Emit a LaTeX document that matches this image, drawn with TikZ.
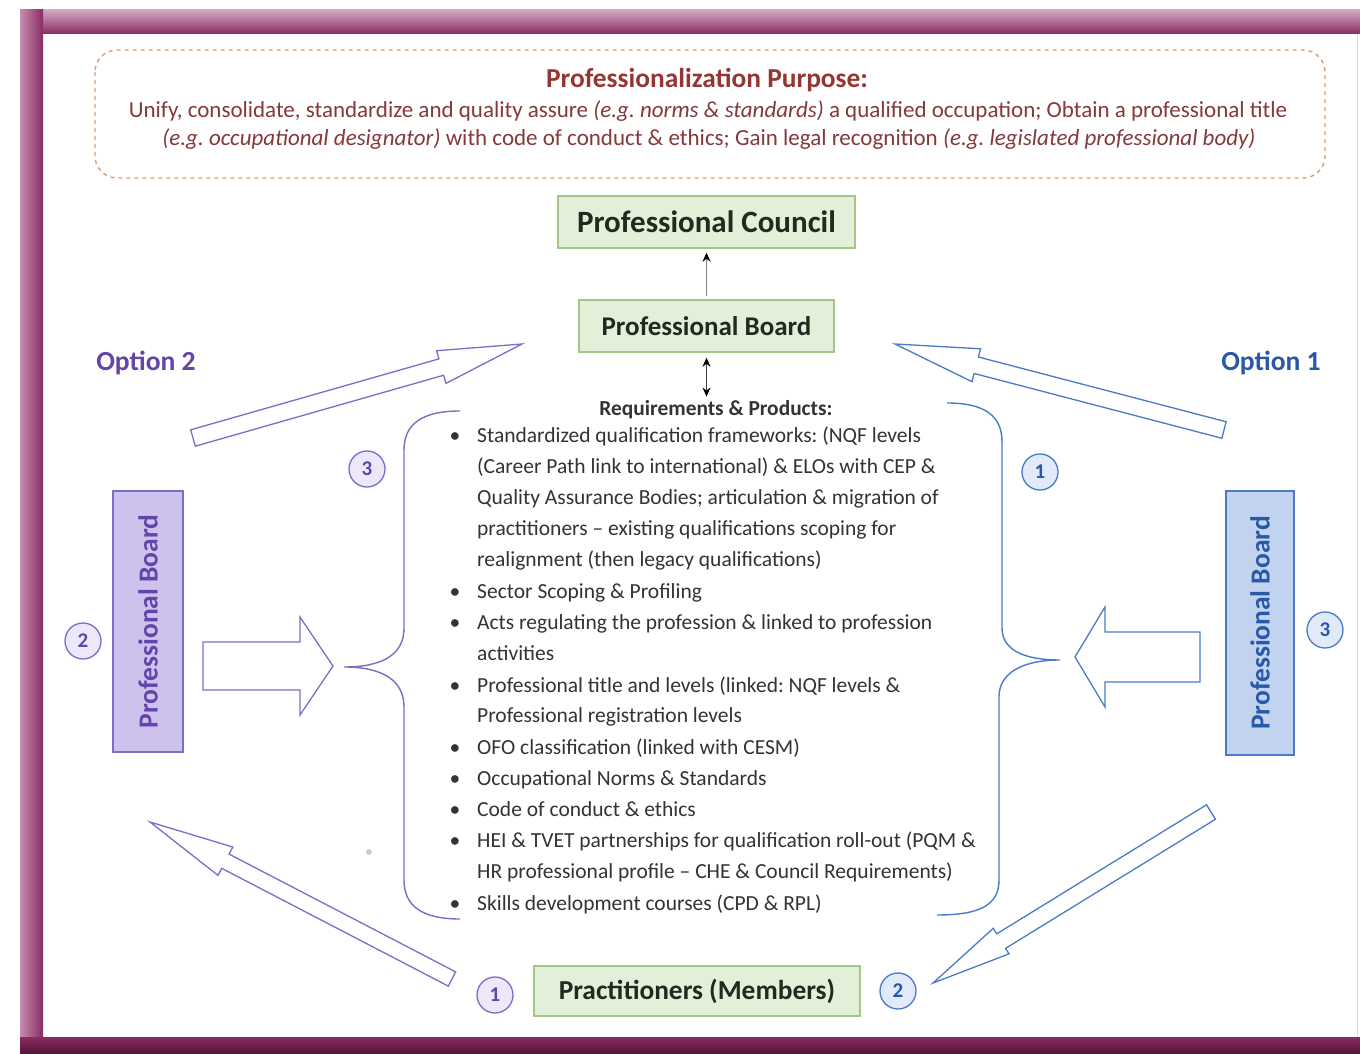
\documentclass[tikz,border=0pt]{standalone}
\usepackage{fontspec}
\setmainfont{Carlito}
\usetikzlibrary{calc,arrows.meta}
\frenchspacing
\definecolor{frameLight}{HTML}{D3A5C4}
\definecolor{frameDark}{HTML}{8A2C61}
\definecolor{frameDeep}{HTML}{4E1534}
\definecolor{purpTitle}{HTML}{943634}
\definecolor{purpBody}{HTML}{84393A}
\definecolor{dashCol}{HTML}{D99A7C}
\definecolor{greenFill}{HTML}{E3EFD8}
\definecolor{greenLine}{HTML}{A6C688}
\definecolor{boxText}{HTML}{1F2B1F}
\definecolor{violetLine}{HTML}{7E6CC6}
\definecolor{violetFill}{HTML}{CDC2EE}
\definecolor{violetText}{HTML}{6444A8}
\definecolor{violetCirc}{HTML}{ECE7F9}
\definecolor{blueLine}{HTML}{4B7BC6}
\definecolor{blueFill}{HTML}{C1D3EF}
\definecolor{blueText}{HTML}{2A58A8}
\definecolor{blueCirc}{HTML}{E0EAF8}
\definecolor{listText}{HTML}{333333}
\newcommand\blockarrow[6]{%
  \coordinate (ba-c) at ($(#3)!#6!(#2)$);
  \draw[#1] ($(#2)!#4!90:(#3)$) -- ($(ba-c)!#4!90:(#3)$) -- ($(ba-c)!#5!90:(#3)$) -- (#3)
    -- ($(ba-c)!#5!-90:(#3)$) -- ($(ba-c)!#4!-90:(#3)$) -- ($(#2)!#4!-90:(#3)$) -- cycle;}
\tikzset{
  greenbox/.style={draw=greenLine, fill=greenFill, line width=1.4pt, text=boxText, font=\bfseries\fontsize{31}{34}\selectfont, inner sep=0pt},
  vboard/.style={rotate=90, line width=1.4pt, font=\bfseries\fontsize{27.5}{30}\selectfont, inner sep=0pt},
  numc/.style={circle, line width=1.3pt, minimum size=36pt, inner sep=0pt, font=\bfseries\fontsize{21}{22}\selectfont},
  vnum/.style={numc, draw=violetLine, fill=violetCirc, text=violetText},
  bnum/.style={numc, draw=blueLine, fill=blueCirc, text=blueText},
  listline/.style={anchor=mid west, inner sep=0pt, text=listText, font=\fontsize{21.5}{24}\selectfont},
  bul/.style={anchor=mid, inner sep=0pt, text=listText, font=\fontsize{21.5}{24}\selectfont},
  varrow/.style={draw=violetLine, line width=1.3pt, fill=white},
  barrow/.style={draw=blueLine, line width=1.3pt, fill=white},
  linkarrow/.style={>={Stealth[length=9pt,width=8pt,color=black]}},
}
\begin{document}
\begin{tikzpicture}[x=1pt,y=-1pt]
\useasboundingbox (0,0) rectangle (1360,1054);
\fill[white] (0,0) rectangle (1360,1054);
% frame
\shade[top color=frameLight, bottom color=frameDark] (20,10) rectangle (1360,34);
\shade[left color=frameLight!80!frameDark, right color=frameDark] (20,10) rectangle (43,1054);
\shade[top color=frameDark, bottom color=frameDeep] (20,1037) rectangle (1360,1054);
\draw[frameLight!50, line width=1pt] (1357,34) -- (1357,1037);
% purpose box
\draw[dashCol, line width=1.4pt, dash pattern=on 4pt off 4pt, rounded corners=22pt] (95,50) rectangle (1325,178);
\node (ptitle) at (707,80) {\textcolor{purpTitle}{\bfseries\fontsize{27.4}{30}\selectfont Professionalization Purpose:}};
\node (pl1) at (708,111) {\textcolor{purpBody}{\fontsize{23}{26}\selectfont Unify, consolidate, standardize and quality assure \textit{(e.g. norms \& standards)} a qualified occupation; Obtain a professional title}};
\node (pl2) at (709,139) {\textcolor{purpBody}{\fontsize{23}{26}\selectfont \textit{(e.g. occupational designator)} with code of conduct \& ethics; Gain legal recognition \textit{(e.g. legislated professional body)}}};
% central boxes
\node[greenbox, minimum width=297pt, minimum height=52pt] (council) at (706.5,222) {Professional Council};
\node[greenbox, minimum width=255pt, minimum height=52pt, font=\bfseries\fontsize{27}{30}\selectfont] (board) at (706.5,326) {Professional Board};
\node[inner sep=0pt, text=listText, font=\bfseries\fontsize{21.4}{24}\selectfont] (req) at (716,410) {Requirements \& Products:};
\draw[linkarrow, black!50, line width=1.6pt, ->, shorten <=3pt, shorten >=4pt] (board.north) -- (council.south);
\draw[linkarrow, black!75, line width=1.4pt, <->, shorten <=5pt, shorten >=4pt] (board.south) -- (board.south |- req.north);
% list
\foreach \yy/\bb/\tt [count=\i] in {
 440/1/{Standardized qualification frameworks: (NQF levels},
 471/0/{(Career Path link to international) \& ELOs with CEP \&},
 502/0/{Quality Assurance Bodies; articulation \& migration of},
 533/0/{practitioners -- existing qualifications scoping for},
 564/0/{realignment (then legacy qualifications)},
 596/1/{Sector Scoping \& Profiling},
 627/1/{Acts regulating the profession \& linked to profession},
 658/0/{activities},
 690/1/{Professional title and levels (linked: NQF levels \&},
 720/0/{Professional registration levels},
 752/1/{OFO classification (linked with CESM)},
 783/1/{Occupational Norms \& Standards},
 814/1/{Code of conduct \& ethics},
 845/1/{HEI \& TVET partnerships for qualification roll-out (PQM \&},
 876/0/{HR professional profile -- CHE \& Council Requirements)},
 908/1/{Skills development courses (CPD \& RPL)}} {
  \node[listline] (line\i) at (477,\yy) {\tt};
  \ifnum\bb=1 \node[bul] (bul\i) at (455,\yy) {\textbullet}; \fi
}
% braces
\draw[violetLine, line width=1.4pt] (460,411) .. controls (422,411) and (404,424) .. (404,450) -- (404,628)
  .. controls (404,655) and (382,667) .. (344,667) .. controls (382,667) and (404,680) .. (404,707)
  -- (404,880) .. controls (404,906) and (422,919) .. (460,919);
\draw[blueLine, line width=1.4pt] (947,403) .. controls (985,403) and (1002,416) .. (1002,442) -- (1002,628)
  .. controls (1002,650) and (1024,660) .. (1060,660) .. controls (1024,660) and (999,672) .. (999,697)
  -- (999,880) .. controls (999,905) and (980,915) .. (937,915);
% side boards
\node[vboard, draw=violetLine, fill=violetFill, text=violetText, minimum width=261pt, minimum height=70pt] (lboard) at (148,621.5) {Professional Board};
\node[vboard, draw=blueLine, fill=blueFill, text=blueText, minimum width=264pt, minimum height=68pt] (rboard) at (1260,623) {Professional Board};
% options
\node[text=violetText, font=\bfseries\fontsize{27.6}{30}\selectfont] (opt2) at (146,363) {Option 2};
\node[text=blueText, font=\bfseries\fontsize{27.6}{30}\selectfont] (opt1) at (1271,363) {Option 1};
% numbered circles
\node[vnum] (v3) at (367,469) {3};
\node[vnum] (v2) at (83,641) {2};
\node[vnum] (v1) at (495,995) {1};
\node[bnum] (b1) at (1040,472) {1};
\node[bnum] (b3) at (1325,630) {3};
\node[bnum] (b2) at (898,991) {2};
% practitioners
\node[greenbox, minimum width=326pt, minimum height=50pt, font=\bfseries\fontsize{27.4}{30}\selectfont] (pract) at (697,991) {Practitioners (Members)};
% block arrows
\coordinate (la-t) at (203,666); \coordinate (la-h) at (333,666);
\blockarrow{varrow}{la-t}{la-h}{24pt}{49pt}{33pt}
\coordinate (ra-t) at (1200,657); \coordinate (ra-h) at (1075,657);
\blockarrow{barrow}{ra-t}{ra-h}{25pt}{50pt}{30pt}
\coordinate (tl-t) at (193,438); \coordinate (tl-h) at (522,344);
\blockarrow{varrow}{tl-t}{tl-h}{8.5pt}{17pt}{84pt}
\coordinate (tr-t) at (1224,430); \coordinate (tr-h) at (895,344);
\blockarrow{barrow}{tr-t}{tr-h}{8.5pt}{17pt}{84pt}
\coordinate (bl-t) at (452,979); \coordinate (bl-h) at (150,822);
\blockarrow{varrow}{bl-t}{bl-h}{8pt}{16pt}{85pt}
\coordinate (br-t) at (1211,812); \coordinate (br-h) at (933,983);
\blockarrow{barrow}{br-t}{br-h}{8.5pt}{15pt}{80pt}
% stray dot
\fill[black!20] (369,852) circle (3pt);
\end{tikzpicture}
\end{document}
